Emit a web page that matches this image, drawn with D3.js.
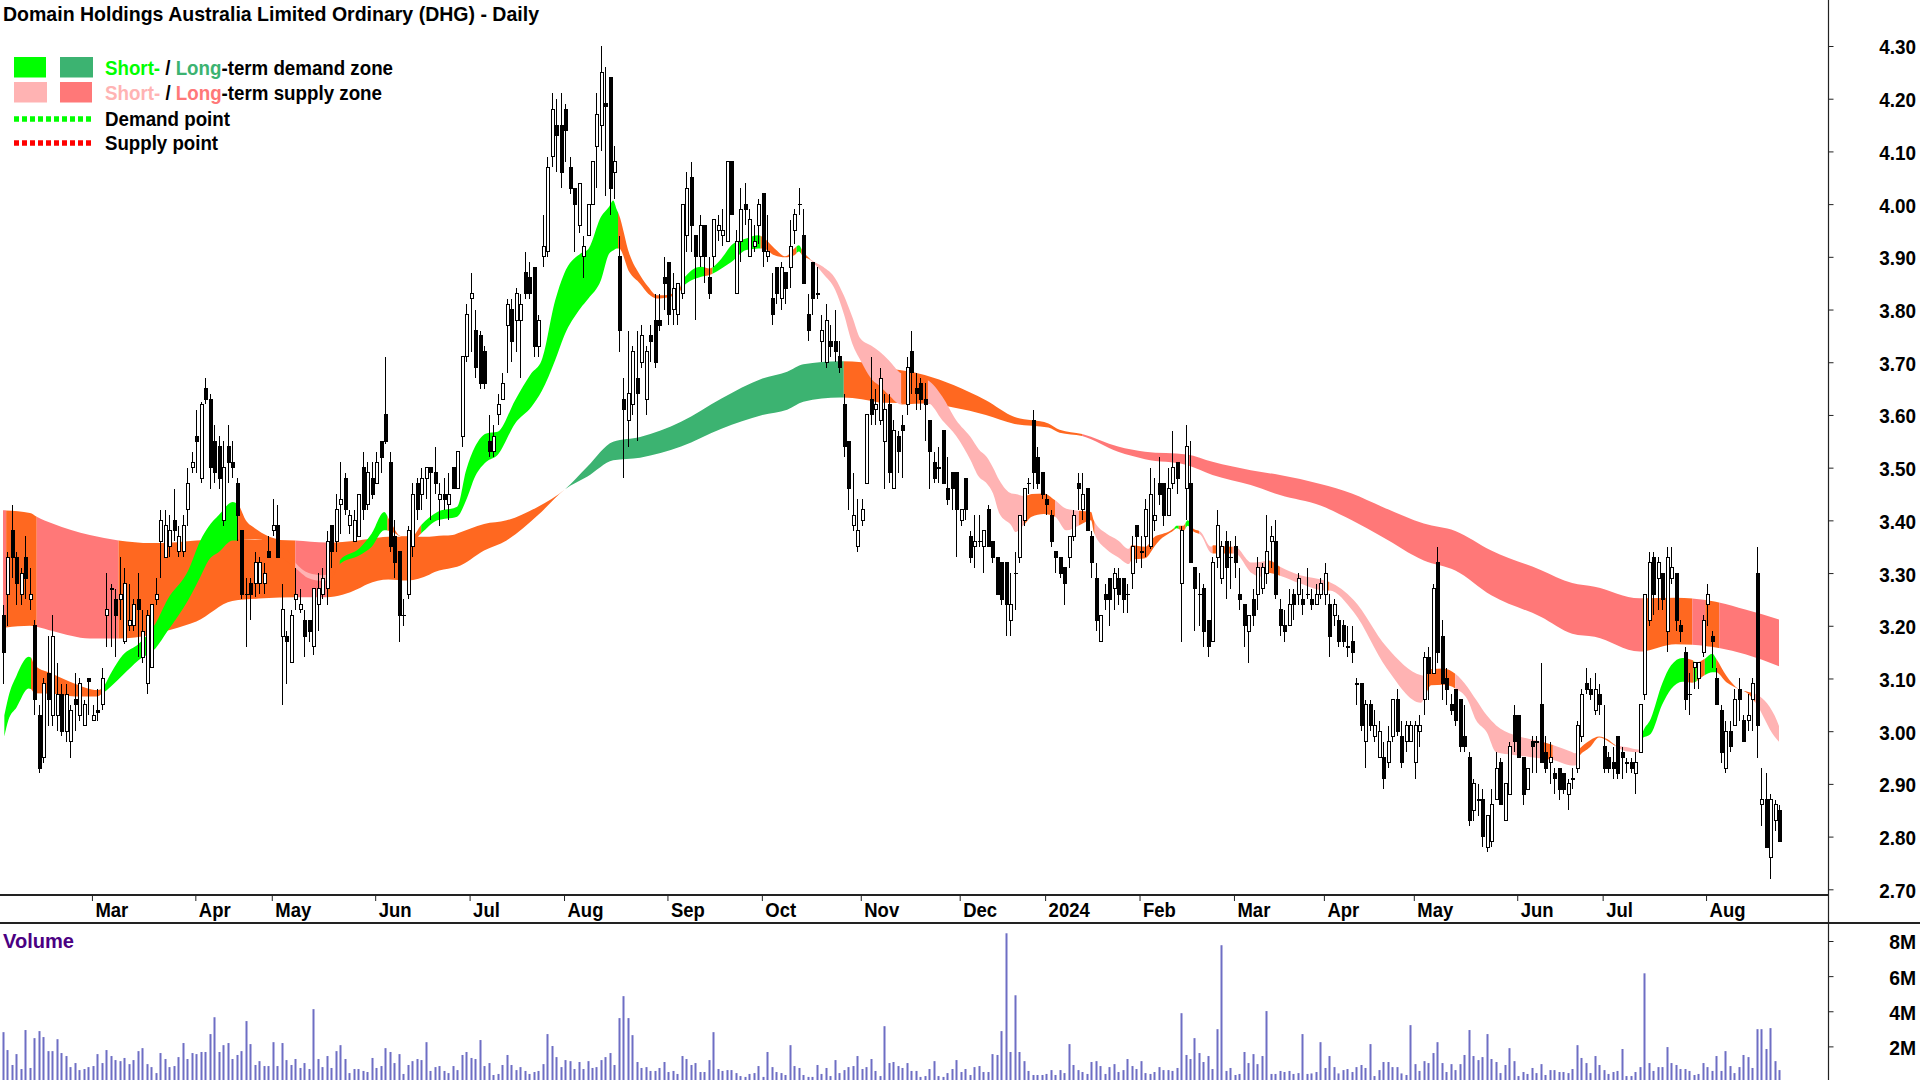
<!DOCTYPE html>
<html>
<head>
<meta charset="utf-8">
<title>DHG Daily</title>
<script src="https://cdn.jsdelivr.net/npm/d3@7"></script>
<style>
  html, body { margin: 0; padding: 0; background: #fff; }
  svg { display: block; }
  text { font-family: "Liberation Sans", Arial, sans-serif; font-weight: 700; fill: #000; }
</style>
</head>
<body>
<svg id="chart" width="1920" height="1080"></svg>
<script>
// Daily candles (396 bars).
const opens = [
  3.22,3.26,3.38,3.33,3.26,3.33,3.25,3.20,3.03,2.95,3.11,3.03,3.03,3.07,3.00,2.98,3.06,3.03,3.01,3.10,
  3.02,3.04,3.05,3.22,3.27,3.25,3.25,3.17,3.20,3.20,3.25,3.14,3.09,3.12,3.25,3.36,3.33,3.35,3.40,3.34,
  3.34,3.42,3.50,3.56,3.48,3.65,3.63,3.55,3.54,3.40,3.54,3.51,3.47,3.38,3.26,3.28,3.28,3.28,3.28,3.34,
  3.38,3.39,3.18,3.18,3.13,3.25,3.23,3.21,3.21,3.16,3.24,3.26,3.27,3.39,3.36,3.43,3.48,3.39,3.36,3.37,
  3.50,3.43,3.48,3.47,3.55,3.60,3.51,3.37,3.34,3.22,3.26,3.35,3.47,3.45,3.48,3.50,3.49,3.44,3.45,3.43,
  3.50,3.46,3.56,3.71,3.82,3.76,3.75,3.72,3.55,3.53,3.60,3.63,3.77,3.80,3.78,3.78,3.87,3.86,3.88,3.73,
  3.90,3.91,4.09,4.15,4.15,4.18,4.07,4.03,3.96,3.90,3.94,4.00,4.11,4.15,4.19,4.24,4.06,3.90,3.63,3.59,
  3.62,3.67,3.70,3.63,3.75,3.78,3.78,3.86,3.89,3.80,3.79,3.83,3.94,4.05,3.94,3.90,3.96,3.86,3.90,3.95,
  3.94,3.93,4.08,3.83,3.93,4.00,3.90,3.92,3.96,4.02,3.90,3.82,3.88,3.82,3.87,3.88,3.95,4.00,3.94,3.79,
  3.89,3.83,3.74,3.70,3.74,3.74,3.71,3.62,3.55,3.39,3.35,3.40,3.47,3.63,3.61,3.59,3.55,3.62,3.46,3.56,
  3.58,3.62,3.72,3.65,3.66,3.63,3.59,3.51,3.50,3.57,3.46,3.49,3.49,3.40,3.48,3.37,3.35,3.36,3.35,3.42,
  3.36,3.33,3.32,3.32,3.21,3.30,3.33,3.40,3.47,3.59,3.52,3.49,3.44,3.41,3.34,3.33,3.31,3.33,3.37,3.47,
  3.42,3.46,3.37,3.29,3.17,3.26,3.29,3.27,3.29,3.29,3.26,3.30,3.39,3.34,3.37,3.35,3.40,3.47,3.47,3.41,
  3.47,3.51,3.28,3.46,3.47,3.31,3.26,3.27,3.21,3.17,3.33,3.29,3.36,3.33,3.35,3.26,3.24,3.19,3.25,3.26,
  3.27,3.30,3.36,3.36,3.23,3.20,3.20,3.26,3.26,3.25,3.26,3.25,3.24,3.26,3.26,3.24,3.22,3.21,3.20,3.16,
  3.17,3.09,3.09,2.98,3.05,2.99,2.95,2.95,2.94,2.99,3.06,2.99,2.98,2.98,2.94,3.00,3.06,3.14,3.11,3.32,
  3.18,3.10,3.05,3.08,3.06,2.99,2.95,2.85,2.87,2.87,2.78,2.79,2.87,2.94,2.83,2.88,3.03,3.03,2.95,2.89,
  2.98,2.98,3.05,2.96,2.94,2.92,2.93,2.92,2.88,2.91,2.93,2.99,3.09,3.08,3.04,3.07,2.97,2.95,2.94,2.99,
  2.96,2.94,2.94,2.92,2.96,3.07,3.21,3.33,3.29,3.30,3.19,3.29,3.30,3.20,3.15,3.07,3.12,3.10,3.15,3.24,
  3.18,3.10,3.04,2.93,3.00,3.01,3.08,3.02,3.02,3.06,3.30,2.86,2.87,2.76,2.83,2.85
];
const highs = [
  3.24,3.34,3.43,3.34,3.31,3.37,3.31,3.21,3.05,3.10,3.18,3.22,3.13,3.09,3.09,3.05,3.11,3.10,3.06,3.10,
  3.05,3.08,3.12,3.30,3.28,3.27,3.33,3.31,3.28,3.25,3.30,3.23,3.23,3.24,3.29,3.42,3.42,3.41,3.46,3.39,
  3.41,3.50,3.53,3.61,3.625,3.67,3.64,3.58,3.56,3.55,3.58,3.55,3.48,3.38,3.29,3.29,3.34,3.33,3.32,3.37,
  3.44,3.43,3.28,3.19,3.23,3.31,3.27,3.23,3.21,3.27,3.30,3.31,3.38,3.39,3.45,3.51,3.49,3.42,3.42,3.45,
  3.53,3.51,3.51,3.53,3.55,3.71,3.53,3.40,3.34,3.25,3.39,3.47,3.48,3.50,3.50,3.50,3.54,3.47,3.48,3.49,
  3.50,3.53,3.71,3.81,3.87,3.80,3.76,3.73,3.60,3.58,3.64,3.68,3.82,3.82,3.84,3.83,3.91,3.89,3.88,3.79,
  3.98,4.09,4.21,4.20,4.21,4.19,4.09,4.03,4.04,3.94,4.00,4.08,4.21,4.30,4.26,4.24,4.11,3.94,3.67,3.76,
  3.73,3.76,3.77,3.73,3.77,3.83,3.83,3.90,3.89,3.87,3.85,4.00,4.06,4.08,3.94,3.98,3.96,3.90,3.97,3.98,
  3.99,4.08,4.08,3.95,4.03,4.04,3.99,3.96,4.01,4.02,3.98,3.87,3.88,3.89,3.87,3.97,3.99,4.03,3.99,3.83,
  3.89,3.88,3.79,3.81,3.77,3.80,3.74,3.64,3.55,3.49,3.44,3.44,3.60,3.71,3.65,3.69,3.64,3.64,3.59,3.57,
  3.60,3.71,3.76,3.68,3.67,3.66,3.59,3.53,3.54,3.57,3.52,3.49,3.49,3.42,3.48,3.38,3.41,3.41,3.38,3.43,
  3.36,3.33,3.32,3.32,3.30,3.34,3.41,3.46,3.48,3.61,3.54,3.49,3.45,3.42,3.34,3.33,3.31,3.37,3.42,3.49,
  3.49,3.46,3.38,3.32,3.22,3.28,3.29,3.31,3.31,3.29,3.28,3.37,3.39,3.37,3.44,3.50,3.48,3.52,3.47,3.50,
  3.57,3.51,3.39,3.58,3.55,3.31,3.30,3.28,3.21,3.33,3.42,3.36,3.38,3.36,3.37,3.31,3.24,3.22,3.27,3.33,
  3.32,3.41,3.39,3.40,3.25,3.23,3.27,3.27,3.30,3.27,3.31,3.27,3.28,3.29,3.32,3.26,3.25,3.22,3.21,3.20,
  3.20,3.10,3.09,3.06,3.06,3.04,3.02,2.98,3.01,3.06,3.08,3.02,3.02,3.02,3.02,3.03,3.15,3.16,3.28,3.35,
  3.21,3.12,3.07,3.08,3.06,3.05,2.96,2.91,2.90,2.89,2.84,2.89,2.96,2.95,2.90,2.98,3.05,3.03,2.95,2.93,
  2.99,2.99,3.13,2.99,2.98,2.93,2.93,2.92,2.91,2.93,3.02,3.08,3.12,3.10,3.11,3.09,3.05,2.96,2.97,2.99,
  2.97,2.95,2.95,2.96,3.05,3.26,3.34,3.34,3.33,3.30,3.35,3.35,3.30,3.21,3.16,3.11,3.13,3.13,3.22,3.28,
  3.19,3.12,3.05,3.02,3.02,3.08,3.10,3.03,3.07,3.10,3.35,2.93,2.92,2.88,2.87,2.86
];
const lows = [
  3.09,3.20,3.29,3.24,3.24,3.25,3.23,3.03,2.92,2.94,3.01,3.01,3.00,2.99,2.98,2.95,3.00,3.02,3.01,3.03,
  3.02,3.02,3.04,3.16,3.16,3.14,3.21,3.165,3.19,3.19,3.14,3.13,3.07,3.12,3.24,3.29,3.33,3.33,3.36,3.33,
  3.33,3.39,3.49,3.49,3.47,3.62,3.46,3.47,3.46,3.39,3.47,3.48,3.36,3.25,3.16,3.21,3.255,3.26,3.26,3.33,
  3.37,3.33,3.05,3.09,3.13,3.23,3.225,3.14,3.17,3.145,3.19,3.25,3.24,3.31,3.34,3.375,3.41,3.375,3.36,3.37,
  3.40,3.42,3.44,3.47,3.49,3.545,3.34,3.29,3.17,3.20,3.25,3.33,3.40,3.42,3.44,3.40,3.45,3.39,3.42,3.40,
  3.46,3.46,3.54,3.70,3.72,3.67,3.65,3.65,3.52,3.52,3.58,3.63,3.68,3.70,3.72,3.67,3.82,3.82,3.71,3.71,
  3.88,3.90,4.07,4.06,4.03,4.08,4.02,3.91,3.945,3.86,3.94,4.00,4.03,4.10,4.015,3.98,4.01,3.72,3.48,3.54,
  3.60,3.55,3.69,3.60,3.70,3.69,3.76,3.80,3.77,3.77,3.77,3.82,3.91,3.91,3.78,3.88,3.85,3.82,3.88,3.93,
  3.92,3.93,3.98,3.83,3.89,3.96,3.90,3.91,3.925,3.88,3.89,3.77,3.81,3.80,3.81,3.84,3.925,3.98,3.85,3.74,
  3.79,3.82,3.70,3.69,3.71,3.70,3.68,3.52,3.42,3.38,3.34,3.39,3.47,3.58,3.58,3.58,3.46,3.47,3.46,3.49,
  3.48,3.60,3.64,3.61,3.61,3.55,3.46,3.47,3.47,3.47,3.43,3.42,3.33,3.39,3.40,3.32,3.31,3.35,3.30,3.35,
  3.32,3.26,3.24,3.18,3.18,3.23,3.32,3.39,3.45,3.46,3.46,3.44,3.41,3.35,3.30,3.29,3.24,3.31,3.36,3.42,
  3.40,3.38,3.29,3.19,3.17,3.23,3.20,3.23,3.24,3.225,3.225,3.27,3.32,3.31,3.33,3.345,3.38,3.43,3.39,3.41,
  3.46,3.45,3.17,3.40,3.32,3.19,3.20,3.16,3.14,3.17,3.31,3.28,3.25,3.27,3.29,3.23,3.16,3.13,3.20,3.23,
  3.26,3.28,3.31,3.25,3.18,3.17,3.20,3.21,3.24,3.22,3.25,3.23,3.24,3.25,3.24,3.14,3.20,3.16,3.16,3.14,
  3.13,3.05,3.00,2.93,3.00,2.98,2.95,2.89,2.93,2.98,2.99,2.93,2.96,2.98,2.91,2.97,3.03,3.06,3.11,3.13,
  3.06,3.05,3.03,3.01,2.96,2.96,2.82,2.83,2.84,2.78,2.77,2.78,2.87,2.86,2.83,2.88,2.96,2.95,2.86,2.89,
  2.92,2.92,2.94,2.92,2.90,2.88,2.87,2.88,2.85,2.89,2.92,2.98,3.07,3.06,3.03,3.03,2.92,2.92,2.91,2.91,
  2.91,2.92,2.92,2.88,2.96,3.06,3.20,3.22,3.23,3.23,3.15,3.28,3.19,3.17,3.04,3.03,3.08,3.08,3.14,3.20,
  3.12,3.05,2.94,2.92,2.96,3.01,3.02,2.98,3.00,3.00,2.95,2.82,2.78,2.72,2.81,2.79
];
const closes = [
  3.15,3.33,3.33,3.28,3.30,3.29,3.26,3.06,2.93,3.09,3.06,3.18,3.07,3.00,3.07,3.04,3.05,3.09,3.05,3.095,
  3.03,3.035,3.10,3.23,3.27,3.22,3.26,3.28,3.21,3.24,3.23,3.19,3.22,3.24,3.26,3.40,3.39,3.38,3.38,3.37,
  3.39,3.47,3.51,3.55,3.62,3.63,3.50,3.49,3.48,3.50,3.51,3.50,3.41,3.26,3.26,3.26,3.32,3.32,3.30,3.33,
  3.39,3.33,3.23,3.17,3.22,3.26,3.24,3.18,3.19,3.27,3.27,3.29,3.36,3.34,3.42,3.44,3.42,3.41,3.40,3.45,
  3.42,3.49,3.45,3.51,3.52,3.55,3.35,3.32,3.22,3.22,3.38,3.45,3.42,3.48,3.50,3.49,3.47,3.45,3.44,3.45,
  3.46,3.53,3.71,3.79,3.83,3.69,3.66,3.66,3.53,3.56,3.62,3.66,3.81,3.74,3.83,3.81,3.83,3.83,3.73,3.78,
  3.92,4.07,4.18,4.13,4.06,4.14,4.03,4.00,4.04,3.92,4.00,4.08,4.17,4.25,4.185,4.03,4.08,3.76,3.61,3.64,
  3.72,3.64,3.75,3.72,3.74,3.70,3.77,3.85,3.79,3.84,3.85,4.00,4.03,3.96,3.90,3.96,3.90,3.83,3.97,3.96,
  3.95,4.08,3.98,3.93,3.99,3.99,3.97,3.93,4.00,3.91,3.91,3.79,3.83,3.88,3.84,3.92,3.98,4.00,3.85,3.76,
  3.82,3.83,3.76,3.78,3.73,3.72,3.69,3.54,3.46,3.41,3.38,3.42,3.60,3.60,3.62,3.67,3.61,3.49,3.57,3.53,
  3.57,3.69,3.68,3.64,3.63,3.62,3.53,3.48,3.50,3.47,3.44,3.46,3.42,3.42,3.42,3.33,3.36,3.36,3.38,3.35,
  3.33,3.26,3.25,3.24,3.24,3.30,3.41,3.46,3.47,3.49,3.47,3.45,3.43,3.36,3.33,3.30,3.28,3.37,3.41,3.46,
  3.45,3.38,3.32,3.21,3.22,3.25,3.25,3.30,3.26,3.25,3.26,3.35,3.37,3.34,3.42,3.45,3.41,3.45,3.41,3.46,
  3.50,3.48,3.38,3.54,3.32,3.27,3.26,3.19,3.16,3.32,3.39,3.35,3.31,3.33,3.32,3.25,3.20,3.22,3.22,3.31,
  3.31,3.34,3.37,3.26,3.20,3.19,3.24,3.24,3.29,3.24,3.26,3.24,3.26,3.28,3.30,3.18,3.24,3.17,3.17,3.16,
  3.15,3.09,3.01,3.05,3.01,3.01,3.00,2.91,2.98,3.06,3.00,2.94,3.01,3.01,3.01,3.01,3.14,3.11,3.27,3.15,
  3.09,3.08,3.04,3.02,2.97,2.97,2.83,2.90,2.87,2.80,2.84,2.86,2.93,2.86,2.90,2.97,2.98,2.95,2.88,2.93,
  2.97,2.98,2.94,2.93,2.95,2.91,2.89,2.89,2.90,2.91,3.01,3.07,3.08,3.07,3.08,3.05,2.93,2.93,2.93,2.92,
  2.95,2.94,2.93,2.94,3.05,3.26,3.32,3.26,3.32,3.25,3.33,3.31,3.21,3.19,3.06,3.07,3.13,3.13,3.21,3.26,
  3.17,3.05,2.96,3.00,2.97,3.06,3.06,2.98,3.03,3.09,3.01,2.87,2.78,2.87,2.86,2.79
];

// Volume in millions of shares, one per bar.
const volumes = [
  2.81,1.79,.94,1.56,.71,2.93,.77,2.47,2.87,2.53,1.73,1.73,2.41,1.62,1.45,.82,1.05,.65,.71,.82,
  .88,1.56,1.05,1.79,1.45,1.22,1.16,1.34,.99,1.22,1.73,1.90,.99,.82,.48,1.62,1.28,.82,.88,1.39,
  2.19,1.28,1.62,1.56,1.68,1.68,2.70,3.66,1.68,2.07,2.19,1.28,1.51,1.73,3.44,2.13,.94,1.16,.88,.88,
  2.24,.88,2.19,1.22,.94,1.28,.77,1.05,.71,4.12,1.28,.82,1.45,.77,1.73,2.07,1.28,.48,.71,.71,
  .60,.54,1.34,.77,.88,1.90,1.68,1.05,1.56,.43,.94,1.16,1.28,1.22,2.24,.60,.82,.88,.60,.48,
  .88,.65,1.51,1.68,1.34,1.28,2.36,.88,1.05,.37,.43,.94,1.51,.94,.65,.82,.60,.43,.54,.60,
  .99,2.70,2.02,1.39,.82,1.22,1.16,.71,1.11,.71,1.16,.77,.82,1.22,1.39,1.62,.94,3.61,4.86,3.61,
  2.64,1.11,.77,.82,.60,.60,.77,1.11,.54,.60,.43,1.45,1.28,.94,1.05,.54,.54,1.22,2.81,.71,
  .60,.65,.65,.48,.31,.26,.43,.48,.88,.26,1.68,.82,.54,.48,.37,2.07,.88,.77,.37,.26,
  .26,.94,.43,.77,.31,1.22,.48,.65,.82,.88,1.45,.71,.82,1.28,.60,.31,3.15,1.05,1.11,.88,
  .77,1.05,.60,.60,.26,.31,.71,1.16,.31,.26,.48,.71,1.22,.54,.71,.37,.82,.88,.54,.54,
  1.56,1.51,2.87,8.44,1.68,4.91,1.68,1.16,.60,.37,.37,.37,.43,.65,.37,.65,.48,2.13,.94,.65,
  .54,.43,1.11,1.16,.88,.43,.82,.99,.54,.65,1.28,.88,.71,1.16,.48,.43,.54,.82,.65,.65,
  .60,.77,3.89,1.51,1.28,2.47,1.62,1.11,1.45,.71,2.98,7.76,.60,.77,.37,.43,1.68,1.05,1.56,.99,
  1.45,4.01,.43,.43,.60,.54,.60,.43,.48,2.70,.43,.46,.54,2.24,.77,1.45,.82,.46,.65,.71,
  .54,.82,.94,.77,2.13,.31,.65,1.11,1.11,.82,.82,.46,.37,3.21,.99,.60,1.16,1.05,1.62,2.24,
  1.05,.54,.99,.65,.99,1.51,2.93,1.45,1.22,1.39,2.70,1.28,1.11,.48,.94,1.90,1.16,.31,.54,.43,
  .77,.48,.99,.37,.65,.65,.54,.54,.48,.71,2.07,1.34,1.05,.48,1.45,.94,.65,.43,.54,.60,
  1.85,.31,.31,.54,.82,6.16,1.05,.60,.82,.82,1.96,1.05,.94,.71,.71,.60,.37,.43,1.05,.82,
  .60,1.45,.60,1.73,.88,.48,.82,1.51,1.39,.77,2.98,2.98,1.85,3.04,1.16,.65
];

// Long-term zone edges, sampled at these bar positions.
const longBars = [0,6,7.5,11,19.3,25.7,33,37.5,43,51,58,65,72,79,81,85.7,90,94.8,96,100,101,107,112,119,125,130,135.7,141.7,150.8,159.8,
  168.9,174.4,178,186.2,191,196,205,211.4,218.6,225,232.5,235,240,248,254,263.3,269,277.5,284,293,300,306.7,316,323,331,342,349,354,364,372,380,387.5,395];
const longTop = [3.419,3.414,3.407,3.394,3.372,3.362,3.357,3.358,3.362,3.364,3.363,3.362,3.358,3.362,3.364,3.369,3.369,3.369,3.37,3.372,3.375,3.393,3.40,3.426,3.459,3.502,3.549,3.558,3.587,3.631,
  3.669,3.682,3.696,3.702,3.70,3.69,3.676,3.657,3.628,3.596,3.584,3.572,3.564,3.54,3.53,3.525,3.511,3.495,3.486,3.469,3.451,3.426,3.394,3.38,3.343,3.306,3.281,3.274,3.252,3.253,3.247,3.231,3.212];
const longBottom = [3.196,3.200,3.198,3.190,3.176,3.176,3.183,3.193,3.208,3.247,3.252,3.254,3.254,3.27,3.279,3.288,3.286,3.297,3.302,3.31,3.312,3.343,3.362,3.41,3.459,3.483,3.514,3.519,3.54,3.574,
  3.60,3.61,3.625,3.633,3.63,3.623,3.622,3.614,3.60,3.583,3.576,3.566,3.56,3.53,3.516,3.505,3.486,3.467,3.448,3.428,3.40,3.369,3.324,3.305,3.258,3.217,3.185,3.179,3.151,3.165,3.160,3.146,3.123];
// [from bar, to bar, state]: "d" demand, "s" supply, "n" orange overlap
const longStates = [[0,0.7,"s"],[0.7,7.5,"n"],[7.5,25.7,"s"],[25.7,65,"n"],[65,72,"s"],[72,125,"n"],[125,187,"d"],[187,240,"n"],[240,364.6,"s"],[364.6,375.7,"n"],[375.7,378.6,"s"],[378.6,381.7,"n"],[381.7,396,"s"]];

// Short-term zone edges.
const shortBars = [0.3,1.2,3,5.7,6.2,7,11,16,21,22,24,26.6,30.2,33.9,36.6,41.2,43.9,45.7,48,51.1,52.3,54,56,59,62,65,68,71,73,74.9,
  79.3,82,84.8,86,88.5,91,93,96.6,101,103,105,107.5,110,113.9,117.5,119.8,122.8,124.8,128.4,130.2,133,134.8,135.7,136.5,137,139.3,141.7,143.5,145.4,147,
  150.3,151.2,155.3,157,159.8,162,165.3,168,169,171.6,174,176,177,178,179.4,179.8,182.4,185.1,187,188.9,190.7,193.4,195,197,199.8,205.7,208.9,212,215.2,217,
  218.8,220.2,221.6,224.3,225.2,227,228.8,231.5,234,236.5,239.5,242,242.6,245.4,248,250.4,251,254,256.3,257,260.4,261,262.5,263.5,264.6,266.4,268.7,269.2,273,274,
  277.7,279.5,281.5,284,288.5,294,295,300.4,307.7,315.4,316.2,317.6,320.4,323,325.7,327.6,330,332.1,336,339.5,342.2,345,348.8,349.7,350.3,353,355,356.8,358.6,361,
  364,364.4,366.5,369,371,373.5,375.7,376.5,378.4,380.2,381,383.3,386,388,389.7,394,395];
const shortTop = [3.03,3.065,3.105,3.141,3.14,3.125,3.109,3.09,3.078,3.081,3.11,3.144,3.166,3.204,3.25,3.305,3.362,3.388,3.41,3.435,3.43,3.40,3.385,3.37,3.36,3.32,3.30,3.296,3.30,3.324,
  3.347,3.375,3.416,3.40,3.37,3.37,3.391,3.416,3.426,3.495,3.54,3.565,3.568,3.628,3.679,3.704,3.817,3.868,3.906,3.915,3.976,3.995,4.007,3.99,3.98,3.906,3.865,3.843,3.827,3.827,
  3.837,3.856,3.881,3.878,3.897,3.922,3.935,3.941,3.937,3.916,3.901,3.916,3.922,3.909,3.897,3.894,3.881,3.859,3.827,3.786,3.745,3.73,3.72,3.704,3.679,3.666,3.635,3.59,3.558,3.535,
  3.52,3.50,3.476,3.451,3.45,3.446,3.45,3.451,3.438,3.422,3.418,3.416,3.40,3.375,3.362,3.346,3.353,3.35,3.37,3.372,3.385,3.39,3.39,3.40,3.385,3.378,3.35,3.353,3.35,3.35,
  3.32,3.321,3.324,3.312,3.296,3.286,3.283,3.249,3.16,3.106,3.105,3.118,3.119,3.109,3.084,3.06,3.03,3.011,2.993,2.985,2.98,2.973,2.961,2.958,2.964,2.983,2.99,2.985,2.974,2.97,
  2.965,2.99,3.024,3.09,3.125,3.139,3.135,3.13,3.137,3.147,3.138,3.105,3.08,3.075,3.071,3.03,3.01];
const shortBottom = [2.99,3.021,3.045,3.081,3.08,3.072,3.071,3.066,3.066,3.071,3.085,3.106,3.135,3.157,3.19,3.249,3.293,3.324,3.34,3.362,3.362,3.364,3.364,3.36,3.33,3.31,3.29,3.285,3.29,3.317,
  3.334,3.35,3.381,3.38,3.369,3.36,3.375,3.40,3.407,3.438,3.483,3.511,3.524,3.584,3.615,3.645,3.704,3.75,3.802,3.821,3.856,3.906,3.912,3.916,3.916,3.871,3.849,3.83,3.821,3.822,
  3.832,3.843,3.862,3.865,3.878,3.89,3.913,3.916,3.916,3.903,3.899,3.903,3.91,3.90,3.895,3.892,3.868,3.837,3.792,3.735,3.704,3.666,3.655,3.638,3.62,3.622,3.59,3.56,3.514,3.483,
  3.47,3.451,3.413,3.39,3.378,3.391,3.407,3.412,3.407,3.381,3.391,3.40,3.378,3.345,3.33,3.317,3.325,3.328,3.353,3.36,3.381,3.385,3.38,3.39,3.38,3.372,3.338,3.337,3.337,3.337,
  3.30,3.293,3.30,3.295,3.28,3.267,3.267,3.226,3.12,3.054,3.065,3.087,3.088,3.081,3.06,3.021,2.998,2.96,2.955,2.951,2.948,2.945,2.935,2.935,2.948,2.97,2.988,2.982,2.972,2.962,
  2.96,2.985,2.995,3.05,3.08,3.094,3.092,3.094,3.106,3.112,3.112,3.093,3.08,3.072,3.055,2.99,2.98];
const shortStates = [[0,6.2,"d"],[6.2,22,"n"],[22,52.3,"d"],[52.3,65,"n"],[65,72,"s"],[72,74.9,"n"],[74.9,85.5,"d"],[85.5,93,"n"],[93,136.8,"d"],[136.8,151,"n"],[151,156,"d"],[156,157.8,"n"],
  [157.8,168.5,"d"],[168.5,176.5,"n"],[176.5,177.5,"d"],[177.5,179.6,"n"],[179.6,199.8,"s"],[199.8,205.7,"n"],[205.7,227,"s"],[227,234,"n"],[234,239.3,"s"],[239.3,242.8,"n"],[242.8,250.7,"s"],
  [250.7,260.5,"n"],[260.5,261.5,"d"],[261.5,263,"n"],[263,264.3,"d"],[264.3,266,"n"],[266,269,"s"],[269,273.5,"n"],[273.5,281.5,"s"],[281.5,284,"n"],[284,294,"s"],[294,295,"n"],[295,316,"s"],
  [316,323,"n"],[323,342.6,"s"],[342.6,344.7,"n"],[344.7,350,"s"],[350,358.5,"n"],[358.5,364.2,"s"],[364.2,374,"d"],[374,376,"n"],[376,376.7,"d"],[376.7,378.5,"n"],[378.5,381,"d"],[381,389.7,"n"],[389.7,396,"s"]];

const priceTicks = [2.7,2.8,2.9,3.0,3.1,3.2,3.3,3.4,3.5,3.6,3.7,3.8,3.9,4.0,4.1,4.2,4.3];
const volumeTicks = [2,4,6,8];
const monthBars = [20,43,60,83,104,125,148,169,191,213,232,253,274,294,314,337,356,379];
const monthLabels = ["Mar","Apr","May","Jun","Jul","Aug","Sep","Oct","Nov","Dec","2024","Feb","Mar","Apr","May","Jun","Jul","Aug"];

const titleText = "Domain Holdings Australia Limited Ordinary (DHG) - Daily";
const GREEN = "#00ff00", SEAGREEN = "#3cb371", PALE = "#ffb3b3", PINK = "#ff7878", ORANGE = "#ff6820";

const AXIS_X = 1828.5;
const x = d3.scaleLinear().domain([0, 395]).range([3, 1779]);
const y = d3.scaleLinear().domain([2.7, 4.3]).range([889.3, 46]);
const yVol = d3.scaleLinear().domain([0, 8]).range([1081.5, 941]);

const svg = d3.select("#chart");

// squeeze a text to a set width, the original font is narrower than Liberation
function fit(sel, width) {
  sel.each(function () {
    this.setAttribute("textLength", width);
    this.setAttribute("lengthAdjust", "spacingAndGlyphs");
  });
  return sel;
}
function squeeze(sel, factor) {
  sel.each(function () {
    this.setAttribute("textLength", this.getComputedTextLength() * factor);
    this.setAttribute("lengthAdjust", "spacingAndGlyphs");
  });
  return sel;
}

// ---- zones ----
const defs = svg.append("defs");
function drawZone(name, bars, top, bottom, states, colors) {
  const pts = bars.map((b, i) => ({ b, t: top[i], u: bottom[i] }));
  const area = d3.area().curve(d3.curveMonotoneX).x(d => x(d.b)).y0(d => y(d.u)).y1(d => y(d.t));
  const g = svg.append("g").attr("class", name);
  states.forEach(([from, to, state], i) => {
    const id = `${name}-${i}`;
    defs.append("clipPath").attr("id", id).append("rect")
      .attr("x", x(from)).attr("y", 0)
      .attr("width", x(to) - x(from)).attr("height", 895);
    g.append("path").attr("d", area(pts)).attr("fill", colors[state]).attr("clip-path", `url(#${id})`);
  });
}
drawZone("long", longBars, longTop, longBottom, longStates, { d: SEAGREEN, s: PINK, n: ORANGE });
drawZone("short", shortBars, shortTop, shortBottom, shortStates, { d: GREEN, s: PALE, n: ORANGE });

// ---- candles ----
const candles = d3.range(opens.length).map(i => ({ i, o: opens[i], h: highs[i], l: lows[i], c: closes[i] }));
const cg = svg.append("g").attr("class", "candles").attr("shape-rendering", "crispEdges");
cg.selectAll("line").data(candles).enter().append("line")
  .attr("x1", d => Math.round(x(d.i)) + 0.5).attr("x2", d => Math.round(x(d.i)) + 0.5)
  .attr("y1", d => y(d.h)).attr("y2", d => y(d.l))
  .attr("stroke", "#000").attr("stroke-width", 1);
cg.selectAll("rect").data(candles).enter().append("rect")
  .attr("x", d => Math.round(x(d.i)) - 1)
  .attr("width", 3)
  .attr("y", d => y(Math.max(d.o, d.c)))
  .attr("height", d => Math.max(0.5, y(Math.min(d.o, d.c)) - y(Math.max(d.o, d.c))))
  .attr("fill", d => d.c > d.o ? "#fff" : "#000")
  .attr("stroke", "#000").attr("stroke-width", 1);

// ---- volume ----
svg.append("g").attr("class", "volume").selectAll("rect").data(volumes).enter().append("rect")
  .attr("x", (d, i) => Math.round(x(i)) - 0.5)
  .attr("width", 2)
  .attr("y", d => yVol(d))
  .attr("height", d => yVol(0) - yVol(d))
  .attr("fill", "#6e6ec4");

// ---- frame ----
const frame = svg.append("g").attr("stroke", "#222");
frame.append("line").attr("x1", 0).attr("x2", AXIS_X).attr("y1", 895).attr("y2", 895).attr("stroke-width", 2);
frame.append("line").attr("x1", 0).attr("x2", 1920).attr("y1", 923).attr("y2", 923).attr("stroke-width", 2);
frame.append("line").attr("x1", AXIS_X).attr("x2", AXIS_X).attr("y1", 0).attr("y2", 1080).attr("stroke-width", 1.2);

// ---- axes ----
const priceAxis = svg.append("g").attr("transform", `translate(${AXIS_X},0)`)
  .call(d3.axisRight(y).tickValues(priceTicks).tickFormat(d3.format(".2f")).tickSize(5));
const volAxis = svg.append("g").attr("transform", `translate(${AXIS_X},0)`)
  .call(d3.axisRight(yVol).tickValues(volumeTicks).tickFormat(d => d + "M").tickSize(5));
for (const ax of [priceAxis, volAxis]) {
  ax.select(".domain").remove();
  ax.selectAll(".tick line").attr("stroke", "#222");
  ax.selectAll(".tick text")
    .attr("x", 87.5).attr("dy", "0.38em").attr("text-anchor", "end")
    .style("font-size", "21px");
}
squeeze(priceAxis.selectAll(".tick text"), 0.9);
squeeze(volAxis.selectAll(".tick text"), 0.92);

const monthAxis = svg.append("g").attr("transform", "translate(0,895)")
  .call(d3.axisBottom(d3.scaleLinear().domain(x.domain()).range([2, 1778]))
    .tickValues(monthBars).tickFormat((d, i) => monthLabels[i]).tickSize(6));
monthAxis.select(".domain").remove();
monthAxis.selectAll(".tick line").attr("stroke", "#222");
monthAxis.selectAll(".tick text")
  .attr("x", 3).attr("y", 0).attr("dy", "21.5px").attr("text-anchor", "start")
  .style("font-size", "21px");
squeeze(monthAxis.selectAll(".tick text"), 0.88);

// ---- title and legend ----
fit(svg.append("text").attr("x", 3).attr("y", 21).style("font-size", "21px").text(titleText), 536);
fit(svg.append("text").attr("x", 3).attr("y", 948).style("font-size", "21px").style("fill", "#4b0082").text("Volume"), 71);

const legendSwatches = [
  { x: 14, y: 57, w: 32, c: GREEN }, { x: 60, y: 57, w: 33, c: SEAGREEN },
  { x: 14, y: 82, w: 33, c: PALE }, { x: 60, y: 82, w: 32, c: PINK }
];
svg.append("g").selectAll("rect").data(legendSwatches).enter().append("rect")
  .attr("x", d => d.x).attr("y", d => d.y).attr("width", d => d.w).attr("height", 20.5).attr("fill", d => d.c);

function legendLine(py, width, parts) {
  const t = svg.append("text").attr("x", 105).attr("y", py).style("font-size", "20px");
  parts.forEach(([s, c]) => t.append("tspan").style("fill", c).text(s));
  fit(t, width);
}
legendLine(75, 288, [["Short-", GREEN], [" / ", "#000"], ["Long", SEAGREEN], ["-term demand zone", "#000"]]);
legendLine(100, 277, [["Short-", PALE], [" / ", "#000"], ["Long", PINK], ["-term supply zone", "#000"]]);
legendLine(126, 125, [["Demand point", "#000"]]);
legendLine(150, 113, [["Supply point", "#000"]]);

[[119, GREEN], [143, "#ff0000"]].forEach(([ly, c]) => {
  svg.append("line").attr("x1", 14).attr("x2", 92).attr("y1", ly).attr("y2", ly)
    .attr("stroke", c).attr("stroke-width", 5.5).attr("stroke-dasharray", "5 3");
});
</script>
</body>
</html>
